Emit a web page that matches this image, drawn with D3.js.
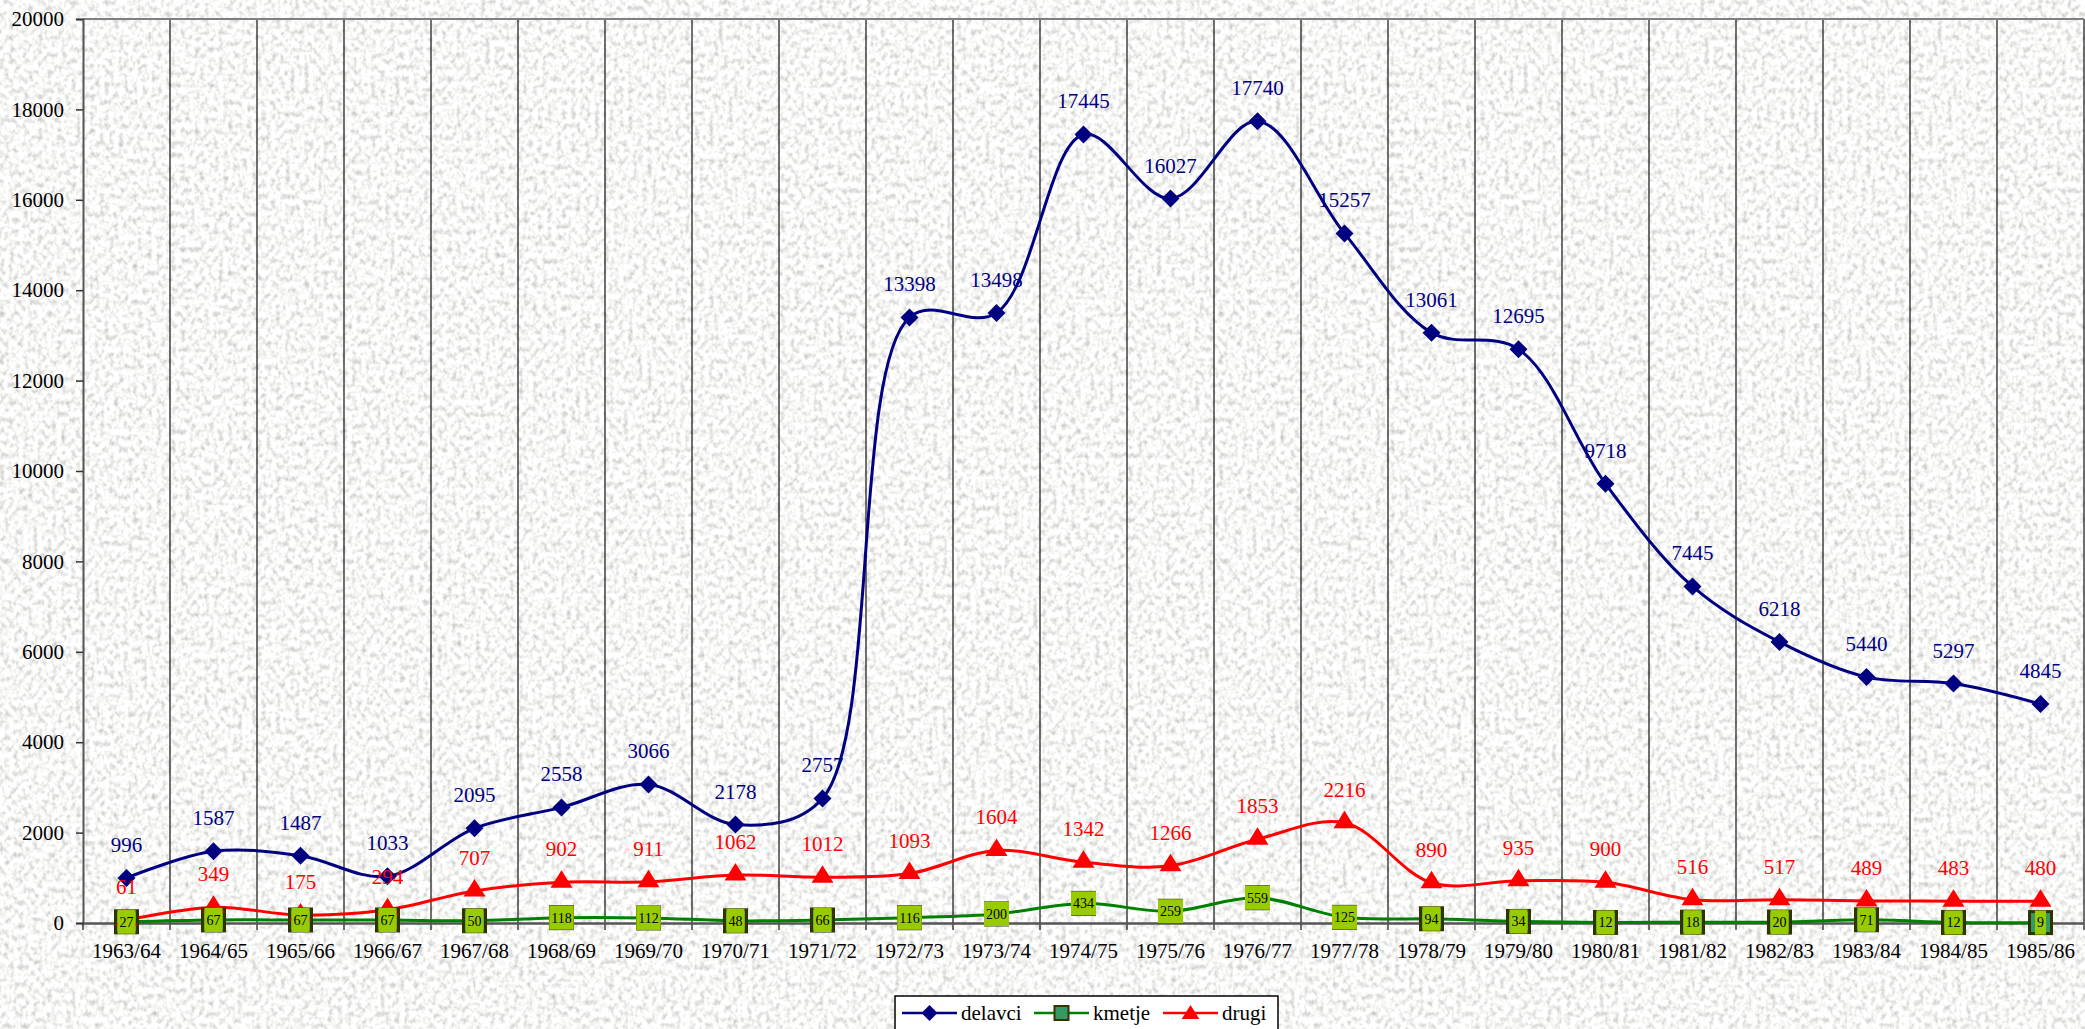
<!DOCTYPE html>
<html>
<head>
<meta charset="utf-8">
<script src="https://cdn.jsdelivr.net/npm/d3@7/dist/d3.min.js"></script>
<style>
  html, body { margin: 0; padding: 0; background: #efefed; overflow: hidden; }
  svg { display: block; font-family: "Liberation Serif", "Times New Roman", serif; }
</style>
</head>
<body>
<svg id="chart" width="2085" height="1029"></svg>
<script>
// School years
const categories = ["1963/64","1964/65","1965/66","1966/67","1967/68","1968/69","1969/70","1970/71",
  "1971/72","1972/73","1973/74","1974/75","1975/76","1976/77","1977/78","1978/79","1979/80",
  "1980/81","1981/82","1982/83","1983/84","1984/85","1985/86"];

// Series values
const delavci = [996,1587,1487,1033,2095,2558,3066,2178,2757,13398,13498,17445,16027,17740,15257,
  13061,12695,9718,7445,6218,5440,5297,4845];
const kmetje = [27,67,67,67,50,118,112,48,66,116,200,434,259,559,125,94,34,12,18,20,71,12,9];
const drugi = [61,349,175,294,707,902,911,1062,1012,1093,1604,1342,1266,1853,2216,890,935,900,
  516,517,489,483,480];

const yTicks = [0,2000,4000,6000,8000,10000,12000,14000,16000,18000,20000];
const seriesNames = ["delavci","kmetje","drugi"];

const W = 2085, H = 1029;
const plotLeft = 83, plotRight = 2084, plotTop = 19, plotBottom = 923;
const FONT = '"Liberation Serif", "Times New Roman", serif';

const svg = d3.select("#chart");

// Grainy paper background
const defs = svg.append("defs");
const f = defs.append("filter").attr("id","grain").attr("x",0).attr("y",0).attr("width","100%").attr("height","100%");
f.append("feTurbulence").attr("type","fractalNoise").attr("baseFrequency","0.21 0.17")
  .attr("numOctaves",2).attr("seed",11).attr("result","n");
f.append("feColorMatrix").attr("in","n").attr("type","matrix")
  .attr("values","0.95 0 0 0 0.46  0.95 0 0 0 0.46  0.95 0 0 0 0.45  0 0 0 0 1");
svg.append("rect").attr("width",W).attr("height",H).attr("filter","url(#grain)");

const x = d3.scaleBand().domain(categories).range([plotLeft, plotRight]);
const y = d3.scaleLinear().domain([0, 20000]).range([plotBottom, plotTop]);
const cx = d => x(d) + x.bandwidth() / 2;

// Vertical category separators (with ticks below the axis)
svg.append("g").selectAll("line")
  .data(d3.range(1, categories.length + 1))
  .join("line")
  .attr("x1", i => plotLeft + i * x.step()).attr("x2", i => plotLeft + i * x.step())
  .attr("y1", plotTop).attr("y2", plotBottom + 7)
  .attr("stroke", "#111").attr("stroke-width", 1.2);

// Top border of the plot area
svg.append("line").attr("x1", plotLeft).attr("x2", plotRight).attr("y1", plotTop).attr("y2", plotTop)
  .attr("stroke", "#808080").attr("stroke-width", 2);

// Y axis
const yAxis = svg.append("g").attr("transform", `translate(${plotLeft},0)`)
  .call(d3.axisLeft(y).tickValues(yTicks).tickSize(7).tickPadding(12).tickFormat(d => String(d)));
yAxis.attr("font-family", FONT).attr("font-size", 21);
yAxis.select(".domain").attr("stroke", "#555").attr("stroke-width", 2);
yAxis.selectAll(".tick line").attr("stroke", "#333").attr("stroke-width", 1.5);
yAxis.selectAll(".tick text").style("font-size", "21px").style("font-family", FONT).attr("fill", "#000");

// X axis
const xAxis = svg.append("g").attr("transform", `translate(0,${plotBottom})`)
  .call(d3.axisBottom(x).tickSize(0).tickPadding(20));
xAxis.attr("font-family", FONT).attr("font-size", 21);
xAxis.select(".domain").attr("stroke", "#555").attr("stroke-width", 2.5);
xAxis.selectAll(".tick text").style("font-size", "21px").style("font-family", FONT).attr("fill", "#000");
svg.append("line").attr("x1", plotLeft).attr("x2", plotLeft).attr("y1", plotBottom).attr("y2", plotBottom + 7)
  .attr("stroke", "#333").attr("stroke-width", 1.5);

const curve = d3.curveCatmullRom.alpha(0.5);
const line = d3.line().x((d, i) => cx(categories[i])).y(d => y(d)).curve(curve);

// Lines
svg.append("path").datum(kmetje).attr("d", line).attr("fill", "none")
  .attr("stroke", "#008000").attr("stroke-width", 3);
svg.append("path").datum(drugi).attr("d", line).attr("fill", "none")
  .attr("stroke", "#ff0000").attr("stroke-width", 3);
svg.append("path").datum(delavci).attr("d", line).attr("fill", "none")
  .attr("stroke", "#000080").attr("stroke-width", 3);

// Marker shapes
const diamond = s => `M0,${-s}L${s},0L0,${s}L${-s},0Z`;
const triangle = s => `M0,${-s}L${s*1.1},${s*0.75}L${-s*1.1},${s*0.75}Z`;

// kmetje markers
svg.append("g").selectAll("rect").data(kmetje).join("rect")
  .attr("x", (d, i) => cx(categories[i]) - 11).attr("y", d => y(d) - 11)
  .attr("width", 22).attr("height", 22)
  .attr("fill", "#339966").attr("stroke", "#333300").attr("stroke-width", 3);

// drugi markers
svg.append("g").selectAll("path").data(drugi).join("path")
  .attr("transform", (d, i) => `translate(${cx(categories[i])},${y(d) - 2})`)
  .attr("d", triangle(10)).attr("fill", "#ff0000");

// delavci markers
svg.append("g").selectAll("path").data(delavci).join("path")
  .attr("transform", (d, i) => `translate(${cx(categories[i])},${y(d)})`)
  .attr("d", diamond(9)).attr("fill", "#000080");

// kmetje value labels in boxes
const kg = svg.append("g").selectAll("g").data(kmetje).join("g")
  .attr("transform", (d, i) => `translate(${cx(categories[i])},${y(d)})`);
kg.each(function(d) {
  const g = d3.select(this);
  const t = g.append("text").text(d).attr("text-anchor", "middle").attr("dy", "0.35em")
    .style("font-size", "14px").style("font-family", FONT).attr("fill", "#000");
  const w = t.node().getComputedTextLength() + 4;
  g.insert("rect", "text").attr("x", -w / 2).attr("y", -12).attr("width", w).attr("height", 24)
    .attr("fill", "#99cc00");
});

// drugi value labels
svg.append("g").selectAll("text").data(drugi).join("text")
  .attr("x", (d, i) => cx(categories[i])).attr("y", d => y(d) - 26)
  .attr("text-anchor", "middle").style("font-size", "21px").style("font-family", FONT)
  .attr("fill", "#ff0000").text(d => d);

// delavci value labels
svg.append("g").selectAll("text").data(delavci).join("text")
  .attr("x", (d, i) => cx(categories[i])).attr("y", d => y(d) - 26)
  .attr("text-anchor", "middle").style("font-size", "21px").style("font-family", FONT)
  .attr("fill", "#000080").text(d => d);

// Legend
const lg = svg.append("g");
lg.append("rect").attr("x", 895).attr("y", 996).attr("width", 383).attr("height", 40)
  .attr("fill", "#fff").attr("stroke", "#000").attr("stroke-width", 1.5);
const legendItems = [
  {name: seriesNames[0], color: "#000080", x: 902, marker: "diamond"},
  {name: seriesNames[1], color: "#008000", x: 1034, marker: "square"},
  {name: seriesNames[2], color: "#ff0000", x: 1163, marker: "triangle"}
];
const ly = 1013;
legendItems.forEach(it => {
  lg.append("line").attr("x1", it.x).attr("x2", it.x + 55).attr("y1", ly).attr("y2", ly)
    .attr("stroke", it.color).attr("stroke-width", 2.5);
  const mx = it.x + 27.5;
  if (it.marker === "diamond") {
    lg.append("path").attr("transform", `translate(${mx},${ly})`).attr("d", diamond(8)).attr("fill", it.color);
  } else if (it.marker === "square") {
    lg.append("rect").attr("x", mx - 7).attr("y", ly - 7).attr("width", 14).attr("height", 14)
      .attr("fill", "#339966").attr("stroke", "#333300").attr("stroke-width", 2);
  } else {
    lg.append("path").attr("transform", `translate(${mx},${ly})`).attr("d", triangle(8)).attr("fill", it.color);
  }
  lg.append("text").attr("x", it.x + 59).attr("y", ly).attr("dy", "0.35em")
    .style("font-size", "21px").style("font-family", FONT).attr("fill", "#000").text(it.name);
});
</script>
</body>
</html>
